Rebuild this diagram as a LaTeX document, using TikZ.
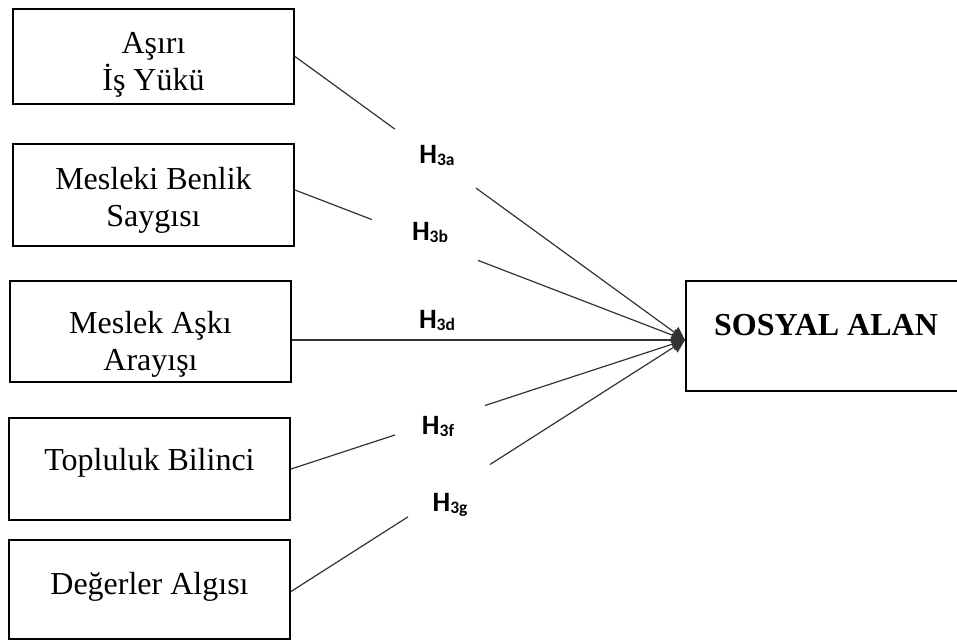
\documentclass[tikz,border=0pt]{standalone}
\usepackage{fontspec}
\setmainfont{Liberation Serif}
\newfontfamily\hfont{Carlito}
\usepackage{tikz}
\usetikzlibrary{arrows.meta, calc}
\newcommand{\hyp}[1]{{\hfont\bfseries H\raisebox{-2pt}{\fontsize{17.5}{17.5}\selectfont #1}}}

\begin{document}
\begin{tikzpicture}[x=1pt, y=-1pt, >={Triangle[length=13pt,width=13pt]},
        box/.style={draw, line width=2pt, minimum width=281pt, align=center,
                    font=\fontsize{32}{37}\selectfont},
        hlabel/.style={font=\fontsize{28}{28}\selectfont},
        link/.style={line width=1.2pt, black!80}]
        \useasboundingbox (0,0) rectangle (957,642);
        % independent variables
        \node[box, minimum height=95pt] (asiri) at (153.5,56.5) {\rule{0pt}{38pt}Aşırı\\İş Yükü};
        \node[box, minimum height=102pt] (benlik) at (153.5,195) {\rule{0pt}{33pt}Mesleki Benlik\\Saygısı};
        \node[box, minimum height=101pt] (ask) at (150.5,331.5) {\rule{0pt}{47pt}Meslek Aşkı\\Arayışı};
        \node[box, minimum height=102pt, text depth=19pt] (topluluk) at (149.5,469) {Topluluk Bilinci};
        \node[box, minimum height=99pt, text depth=12pt] (deger) at (149.5,589.5) {Değerler Algısı};
        % dependent variable
        \node[box, minimum width=300pt, minimum height=110pt, text depth=22pt,
              font=\bfseries\fontsize{32}{37}\selectfont] (sosyal) at (836,336) {\hspace*{-20pt}SOSYAL ALAN};
        \coordinate (tip) at (685,340);
        % hypotheses
        \node[hlabel] (h3a) at (437,155) {\hyp{3a}};
        \node[hlabel] (h3b) at (430,232) {\hyp{3b}};
        \node[hlabel] (h3d) at (437,320) {\hyp{3d}};
        \node[hlabel] (h3f) at (438,426) {\hyp{3f}};
        \node[hlabel] (h3g) at (450,505) {\hyp{3g}};
        \foreach \b/\y/\s/\e in {asiri/0/.256/.464, benlik/5/.197/.469, topluluk/0/.264/.492, deger/-2/.297/.505} {
          \coordinate (\b-out) at ([yshift=\y pt]\b.east);
          \path (\b-out) -- (tip) coordinate[pos=\s] (\b-gs) coordinate[pos=\e] (\b-ge);
          \draw[link] (\b-out) -- (\b-gs);
          \draw[link, ->] (\b-ge) -- (tip);
        }
        \draw[link, ->] (ask.east |- tip) -- (tip);
      \end{tikzpicture}
\end{document}
